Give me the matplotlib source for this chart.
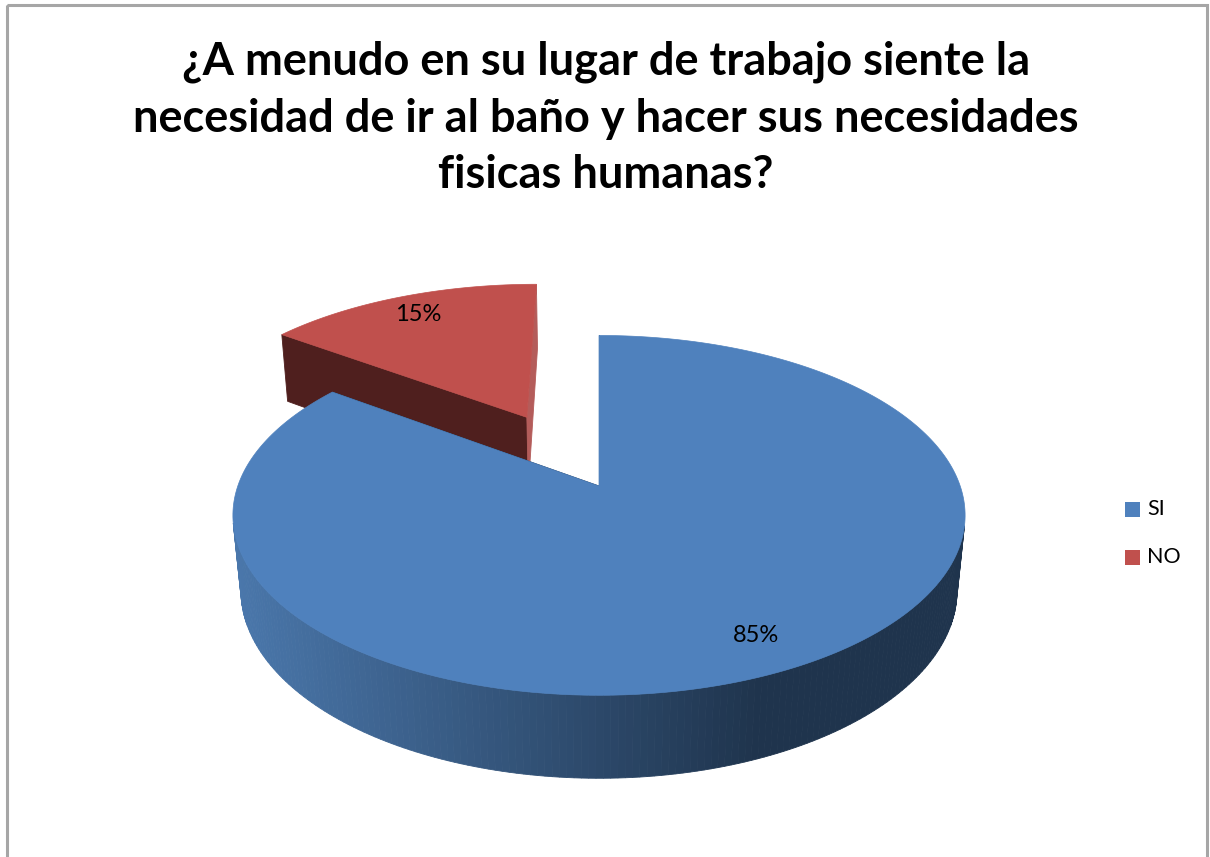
import numpy as np
import matplotlib
matplotlib.use("Agg")
import matplotlib.pyplot as plt
from matplotlib.patches import Polygon, Rectangle
from matplotlib.colors import to_rgb

# data
labels = ["SI", "NO"]
values = [85, 15]
explode = [0.0, 0.47]
top_colors = ["#4f81bd", "#c0504d"]
title_lines = ["¿A menudo en su lugar de trabajo siente la",
               "necesidad de ir al baño y hacer sus necesidades",
               "fisicas humanas?"]

# camera / projection for the 3d look
elev = np.deg2rad(29)
s, c = np.sin(elev), np.cos(elev)
D, F, h = 5.36, 1936.0, 0.24
X0, Y0 = 599, 486
cam = np.array([0.0, -D * c, D * s])


def proj(X, Y, Z):
    depth = c * Y - s * Z + D
    up = s * Y + c * Z
    return X0 + F * X / depth, Y0 - F * up / depth


def visible(n, p):
    return np.dot(n, cam - p) > 0


def mix(a, b, t):
    a, b = np.array(to_rgb(a)), np.array(to_rgb(b))
    return tuple(a + (b - a) * t)


fig = plt.figure(figsize=(12.1, 8.57), dpi=100)
ax = fig.add_axes([0, 0, 1, 1])
ax.set_xlim(0, 1210)
ax.set_ylim(857, 0)
ax.axis("off")

ax.add_patch(Rectangle((7, 5), 1200, 880, fill=False, ec="#a6a6a6", lw=2.2))

fracs = np.array(values) / sum(values)
starts = np.concatenate([[0], np.cumsum(fracs)[:-1]]) * 360
ends = starts + fracs * 360
side_dark = ["#1f344d", "#4f1f1e"]
side_light = ["#1f344d", "#b45c5a"]


def draw_slice(i):
    a1, a2 = np.deg2rad(starts[i]), np.deg2rad(ends[i])
    mid = (a1 + a2) / 2
    ox, oy = explode[i] * np.sin(mid), explode[i] * np.cos(mid)
    t = np.linspace(a1, a2, int(np.degrees(a2 - a1)) + 2)
    # outer wall
    for k in range(len(t) - 1):
        tm = (t[k] + t[k + 1]) / 2
        n = np.array([np.sin(tm), np.cos(tm), 0])
        p = np.array([ox + np.sin(tm), oy + np.cos(tm), -h / 2])
        if not visible(n, p):
            continue
        pts = []
        for tt, z in [(t[k], 0), (t[k + 1], 0), (t[k + 1], -h), (t[k], -h)]:
            pts.append(proj(ox + np.sin(tt), oy + np.cos(tt), z))
        xm = np.mean([q[0] for q in pts])
        if i == 0:
            col = mix("#4a77ab", "#1f344d", np.clip((xm - 237) / 520, 0, 1))
        else:
            col = side_dark[i]
        ax.add_patch(Polygon(pts, closed=True, fc=col, ec=col, lw=0.6))
    # radial faces
    for a, n, col in [(a1, np.array([-np.cos(a1), np.sin(a1), 0]), side_dark[i]),
                      (a2, np.array([np.cos(a2), -np.sin(a2), 0]), side_light[i])]:
        p = np.array([ox + 0.5 * np.sin(a), oy + 0.5 * np.cos(a), -h / 2])
        if not visible(n, p) and i != 0:
            continue
        pts = [proj(ox, oy, 0), proj(ox + np.sin(a), oy + np.cos(a), 0),
               proj(ox + np.sin(a), oy + np.cos(a), -h), proj(ox, oy, -h)]
        ax.add_patch(Polygon(pts, closed=True, fc=col, ec=col, lw=0.6))
    # top face
    pts = [proj(ox, oy, 0)] + [proj(ox + np.sin(tt), oy + np.cos(tt), 0) for tt in t]
    ax.add_patch(Polygon(pts, closed=True, fc=top_colors[i], ec=top_colors[i], lw=0.5))
    # label
    r = 0.84
    lx, ly = proj(ox + r * np.sin(mid), oy + r * np.cos(mid), 0)
    ax.text(lx, ly, f"{values[i]}%", ha="center", va="center",
            fontsize=17, family="Lato", color="black")


# far slice first
order = sorted(range(len(values)),
               key=lambda i: explode[i] * np.cos(np.deg2rad((starts[i] + ends[i]) / 2)),
               reverse=True)
for i in order:
    draw_slice(i)

for k, line in enumerate(title_lines):
    ax.text(606, 62 + 56.5 * k, line, ha="center", va="center",
            fontsize=32.5, fontweight="bold", family="Lato")

for k, lab in enumerate(labels):
    yy = 509 + 48 * k
    ax.add_patch(Rectangle((1125, yy - 7.5), 15, 15, fc=top_colors[k], ec="none"))
    ax.text(1147, yy, lab, ha="left", va="center", fontsize=15.5, family="Lato")

fig.savefig("out.png", dpi=100)
